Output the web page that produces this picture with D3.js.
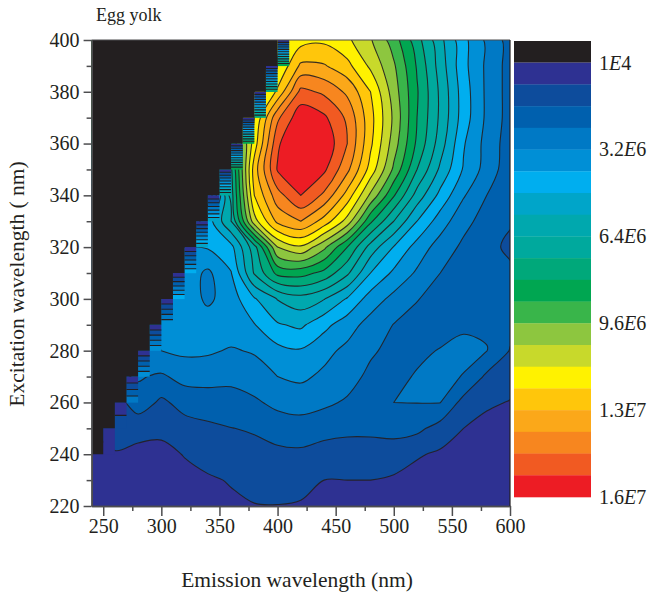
<!DOCTYPE html>
<html>
<head>
<meta charset="utf-8">
<script src="https://cdn.jsdelivr.net/npm/d3@7"></script>
<style>
body{margin:0;background:#fff}
text{font-family:"Liberation Serif",serif;fill:#231f20}
</style>
</head>
<body>
<svg id="chart" width="649" height="599"></svg>
<script>
var emission = d3.range(240, 601, 20)
var excitation = d3.range(400, 219, -10)

// intensity, in units of one colour band (8E5), top row is 400 nm
var row400 = [12,12,12,12,12,12,12,12,14.3,14.6,14.8,14.2,13.1,11.5,9.4,7.3,5.3,3.8,2.6]
var row390 = [12,12,12,12,12,12,12,12,14,16.2,16.1,15.3,13.8,12.15,9.9,7.55,5.3,3.8,2.6]
var row380 = [12,12,12,12,12,12,12,13,15.2,18.3,17.8,16.8,15,12.5,10.1,7.8,5.5,3.8,2.6]
var row370 = [12,12,12,12,12,12,12,14,17.8,19.7,19.2,17.8,15.35,12.8,10,7.8,5.5,3.8,2.6]
var row360 = [10,10,10,10,10,10,10,14.5,18.8,20.5,19.8,18,15.2,12.5,9.8,7.5,5.1,3.65,2.5]
var row350 = [8,8,8,8,8,8,8.8,15.5,19.1,20.4,19.2,17.25,14.6,11.8,9,6.8,4.9,3.6,2.4]
var row340 = [3,3,3,3,3,3,8.5,15,17.6,19,17.8,15.6,12.8,10.1,7.6,5.7,4.1,3,2.3]
var row330 = [4,4,4,4,4,5.5,8,13.6,16.25,17,15.6,13.6,10.2,8,6,4.5,3.3,2.6,2.1]
var row320 = [5,5,5,5,5,5.1,5.7,8.6,13,13.85,12.25,10,7.6,5.95,4.6,3.55,2.8,2.3,1.8]
var row310 = [4.5,4.5,4.5,4.5,4.6,3.8,4.95,8.1,10.3,10.4,9.7,8.2,6,4.8,3.85,3,2.6,2.25,2.2]
var row300 = [4.3,4.3,4.3,4.3,4.6,3.8,4.5,5.9,7.05,7.6,7.05,5.9,4.55,3.7,3.05,2.6,2.3,2.2,2.15]
var row290 = [4,4,4,4.3,4.4,4.5,4.6,4.95,5.9,6.2,5.3,4.45,3.6,2.97,2.6,2.6,2.93,2.93,2.3]
var row280 = [3.3,3.3,3.3,4,4.2,4.15,3.9,4.1,4.7,4.9,4.3,3.75,3.15,2.7,2.8,3.05,3.12,3.02,1.95]
var row270 = [2.8,2.8,3.1,2.85,3.35,3.35,3.25,3.5,4,4.2,3.8,3.4,2.76,2.75,3.08,3.12,2.98,1.8,1.43]
var row260 = [1,1.5,2.6,1.8,2.37,2.53,2.62,2.85,3.25,3.4,3.2,2.87,2.43,3,3.02,3.02,1.65,1.15,.95]
var row250 = [.9,1.6,1.26,1.25,1.6,1.8,1.98,2.1,2.47,2.57,2.35,2.2,2.2,2.3,2.25,1.6,1,.7,.5]
var row240 = [.5,.9,.8,.7,1.05,1.45,1.53,1.7,1.75,1.8,1.6,1.6,1.6,1.56,1.1,.85,.7,.55,.4]
var row230 = [.3,.4,.5,.55,.7,.85,1.08,1.4,1.5,1.35,1,1,1,.85,.65,.55,.45,.4,.3]
var row220 = [.2,.25,.3,.35,.45,.6,.8,.95,.97,.9,.7,.6,.55,.45,.4,.35,.3,.25,.2]
var rows = [row400,row390,row380,row370,row360,row350,row340,row330,row320,row310,row300,row290,row280,row270,row260,row250,row240,row230,row220]

var bandColors = ["#2e3192","#0d4c9c","#0060ae","#0079c5","#008fd6","#00aeef","#00a5c9","#00a8ae","#00a99d","#00a87a",
    "#00a651","#39b54a","#8dc63f","#c8d92b","#fff200","#ffc60b","#fba819","#f7861f","#f15a22","#ed1c24"]
var noDataColor = "#231f20"
var bandStep = 8e5

// scatter edge: first excitation with no data and how many bands pile up in each step
var stepEx = d3.range(400, 239, -10)
var stepBands = [11,10,10,11,11,9,7,7,6,6,5,5,5,4,2,1,0]

var legendValues = [1e4,3.2e6,6.4e6,9.6e6,12.8e6,16e6]
var legendMant = ["1","3.2","6.4","9.6","1.3","1.6"]
var legendExp = ["4","6","6","6","7","7"]

var svg = d3.select("#chart")
var x = d3.scaleLinear().domain([240,600]).range([91.6,510])
var y = d3.scaleLinear().domain([220,400]).range([506,40])

svg.append("defs").append("clipPath").attr("id","plotclip").append("rect")
    .attr("x",x(240)).attr("y",y(400)).attr("width",x(600)-x(240)).attr("height",y(220)-y(400))

var plot = svg.append("g").attr("clip-path","url(#plotclip)")

plot.append("rect").attr("x",x(240)).attr("y",y(400)).attr("width",x(600)-x(240)).attr("height",y(220)-y(400))
    .attr("fill",bandColors[0])

// contours works on grid indices, value i sits at i+0.5
var thresholds = d3.range(1,20).map(function(k){return k*bandStep})
var flat = []
rows.forEach(function(r){ r.forEach(function(v){ flat.push(v*bandStep) }) })
var contours = d3.contours().size([emission.length,excitation.length]).thresholds(thresholds)(flat)

var xi = d3.scaleLinear().domain([0.5,emission.length-0.5]).range([x(240),x(600)])
var yi = d3.scaleLinear().domain([0.5,excitation.length-0.5]).range([y(400),y(220)])
var ringLine = d3.line().x(function(p){return xi(p[0])}).y(function(p){return yi(p[1])}).curve(d3.curveCatmullRomClosed.alpha(0.5))

function bandPath(d){
    var s = ""
    d.coordinates.forEach(function(poly){
        poly.forEach(function(ring){ s += ringLine(ring.slice(0,-1)) })
    })
    return s
}

plot.selectAll("path.band").data(contours).enter().append("path")
    .attr("class","band")
    .attr("d",bandPath)
    .attr("fill",function(d,i){return bandColors[i+1]})
    .attr("stroke","#231f20")
    .attr("stroke-width",1.1)
    .attr("stroke-opacity",0.9)
    .attr("stroke-linejoin","round")

// stripes at every step of the staircase
stepEx.forEach(function(ex,s){
    var n = stepBands[s]
    if(!n) return
    var top = y(ex), h = y(ex-10)-y(ex), w = x(ex+10)-x(ex)
    for(var b=0;b<n;b++){
        plot.append("rect").attr("x",x(ex)).attr("y",top+h*b/n).attr("width",w).attr("height",h/n+0.2)
            .attr("fill",bandColors[b])
        if(b>0) plot.append("line").attr("x1",x(ex)).attr("x2",x(ex)+w).attr("y1",top+h*b/n).attr("y2",top+h*b/n)
            .attr("stroke","#231f20").attr("stroke-width",1.1)
    }
})

// black no-data staircase
var stair = d3.line().x(function(d){return x(d)}).y(function(d){return y(d)}).curve(d3.curveStepBefore)
plot.append("path")
    .attr("d",stair(stepEx)+"L"+x(240)+","+y(400)+"Z")
    .attr("fill",noDataColor)

// axes
var xAxis = d3.axisBottom(x).tickValues(d3.range(250,601,50)).tickSize(10).tickPadding(3).tickSizeOuter(0)
var xMinor = d3.axisBottom(x).tickValues(d3.range(275,576,50)).tickSize(5).tickFormat("").tickSizeOuter(0)
var yAxis = d3.axisLeft(y).tickValues(d3.range(220,401,20)).tickSize(8).tickPadding(4).tickSizeOuter(0)
var yMinor = d3.axisLeft(y).tickValues(d3.range(230,391,20)).tickSize(5).tickFormat("").tickSizeOuter(0)

function styleAxis(g){
    g.selectAll("path,line").attr("stroke","#4d4d4f").attr("stroke-width",1.5)
    g.selectAll("text").attr("font-size",20).attr("font-family",'"Liberation Serif",serif').attr("fill","#231f20")
}
svg.append("g").attr("transform","translate(0,"+y(220)+")").call(xMinor).call(styleAxis)
svg.append("g").attr("transform","translate(0,"+y(220)+")").call(xAxis).call(styleAxis)
svg.append("g").attr("transform","translate("+x(240)+",0)").call(yMinor).call(styleAxis)
svg.append("g").attr("transform","translate("+x(240)+",0)").call(yAxis).call(styleAxis)

svg.append("line").attr("x1",x(240)).attr("x2",x(600)).attr("y1",y(400)).attr("y2",y(400)).attr("stroke","#4d4d4f").attr("stroke-width",1.2)
svg.append("line").attr("x1",x(600)).attr("x2",x(600)).attr("y1",y(400)).attr("y2",y(220)).attr("stroke","#231f20").attr("stroke-width",1.2)

svg.append("text").attr("x",96).attr("y",21).attr("font-size",18).text("Egg yolk")
svg.append("text").attr("x",297).attr("y",587).attr("text-anchor","middle").attr("font-size",21.5).text("Emission wavelength (nm)")
svg.append("text").attr("transform","translate(24,284) rotate(-90)").attr("text-anchor","middle").attr("font-size",21.5).text("Excitation wavelength ( nm)")

// legend, one band per level plus the black no-data box on top
var legY = d3.scaleLinear().domain([1e4,16e6]).range([62.7,497])
var legX = 514, legW = 77
var bandH = (legY(16e6)-legY(1e4))/bandColors.length
svg.append("rect").attr("x",legX).attr("y",41).attr("width",legW).attr("height",legY(1e4)-41).attr("fill",noDataColor)
svg.selectAll("rect.leg").data(bandColors).enter().append("rect")
    .attr("class","leg")
    .attr("x",legX).attr("width",legW)
    .attr("y",function(d,i){return legY(1e4)+i*bandH})
    .attr("height",bandH+0.3)
    .attr("fill",function(d){return d})

legendValues.forEach(function(v,i){
    var t = svg.append("text").attr("x",599).attr("y",legY(v)+7).attr("font-size",20)
    t.append("tspan").text(legendMant[i])
    t.append("tspan").attr("font-style","italic").text("E")
    t.append("tspan").text(legendExp[i])
})
</script>
</body>
</html>
